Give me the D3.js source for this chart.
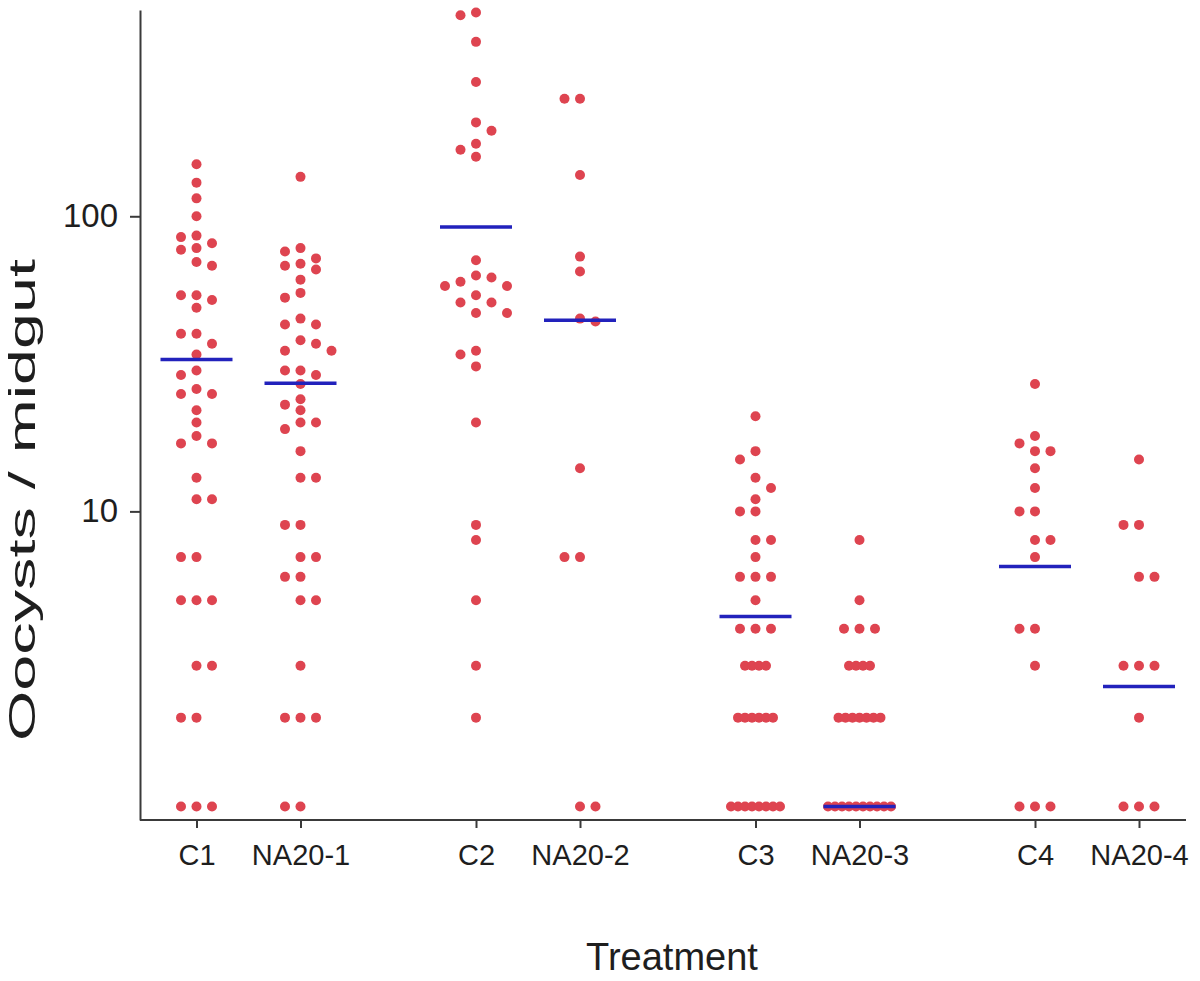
<!DOCTYPE html>
<html>
<head>
<meta charset="utf-8">
<title>Oocysts per midgut</title>
<script src="https://d3js.org/d3.v7.min.js"></script>
<style>
  body { margin: 0; background: #fff; }
  text { font-family: "Liberation Sans", Arial, sans-serif; fill: #1e1e1e; }
</style>
</head>
<body>
<div id="chart"></div>
<script>
// categories, two per infection round
var categories = ["C1", "NA20-1", "C2", "NA20-2", "C3", "NA20-3", "C4", "NA20-4"];
var pairs = ["1", "2", "3", "4"];
var yTicks = [10, 100];

// oocyst counts per midgut
var c1 = [150, 130, 115, 100, 86, 85, 81, 78, 77, 70, 68, 54, 54, 52, 49, 40, 40, 37, 34, 30, 29, 26, 25, 25, 22, 20, 18, 17, 17, 13, 11, 11, 7, 7, 5, 5, 5, 3, 3, 2, 2, 1, 1, 1];
var na1 = [136, 78, 76, 72, 69, 68, 66, 61, 55, 53, 45, 43, 43, 38, 37, 35, 35, 30, 30, 29, 27, 24, 23, 22, 20, 20, 19, 16, 13, 13, 9, 9, 7, 7, 6, 6, 5, 5, 3, 2, 2, 2, 1, 1];
var c2 = [490, 480, 390, 285, 208, 195, 176, 168, 159, 71, 63, 62, 60, 58, 58, 54, 51, 51, 47, 47, 35, 34, 31, 20, 9, 8, 5, 3, 2];
var na2 = [250, 250, 138, 73, 65, 45, 44, 14, 7, 7, 1, 1];
var c3 = [21, 16, 15, 13, 12, 11, 10, 10, 8, 8, 7, 6, 6, 6, 5, 4, 4, 4, 3, 3, 3, 3, 2, 2, 2, 2, 2, 2, 1, 1, 1, 1, 1, 1, 1, 1];
var na3 = [8, 5, 4, 4, 4, 3, 3, 3, 3, 2, 2, 2, 2, 2, 2, 2, 1, 1, 1, 1, 1, 1, 1, 1, 1, 1];
var c4 = [27, 18, 17, 16, 16, 14, 12, 10, 10, 8, 8, 7, 4, 4, 3, 1, 1, 1];
var na4 = [15, 9, 9, 6, 6, 3, 3, 3, 2, 1, 1, 1];
var series = [c1, na1, c2, na2, c3, na3, c4, na4];

// group summary lines
var means = [32.7, 27.2, 92, 44.4, 4.4, 1.0, 6.5, 2.55];

var width = 1200, height = 981;
var svg = d3.select('#chart').append('svg')
  .attr('width', width)
  .attr('height', height);

var pairX = d3.scalePoint().domain(pairs).range([248.5, 1087]);
var inner = d3.scalePoint().domain(["C", "NA20"]).range([-52, 52]);
var x = d3.scaleOrdinal()
  .domain(categories)
  .range(categories.map(function (c) {
    return pairX(c.slice(-1)) + inner(c[0] == "C" ? "C" : "NA20");
  }));

var y = d3.scaleLog().domain([0.9, 500]).range([820, 10]);

// y axis
var yAxis = svg.append('g')
  .attr('transform', 'translate(140,0)')
  .call(d3.axisLeft(y).tickValues(yTicks).tickFormat(d3.format('d'))
    .tickSizeInner(10).tickSizeOuter(0).tickPadding(12));
yAxis.select('.domain').attr('stroke', '#3a3a3a').attr('stroke-width', 2);
yAxis.selectAll('.tick line').attr('stroke', '#3a3a3a').attr('stroke-width', 2);
yAxis.selectAll('.tick text').attr('font-size', 33).attr('fill', '#1e1e1e')
  .attr('font-family', '"Liberation Sans", Arial, sans-serif');

// x axis
var xAxis = svg.append('g')
  .attr('transform', 'translate(0,820)')
  .call(d3.axisBottom(x).tickSizeInner(8).tickSizeOuter(0).tickPadding(16));
xAxis.select('.domain').remove();
xAxis.selectAll('.tick line').attr('stroke', '#3a3a3a').attr('stroke-width', 2);
xAxis.selectAll('.tick text').attr('font-size', 29).attr('fill', '#1e1e1e')
  .attr('font-family', '"Liberation Sans", Arial, sans-serif');
xAxis.append('line')
  .attr('x1', 140).attr('x2', 1186)
  .attr('stroke', '#3a3a3a').attr('stroke-width', 2);

// titles
svg.append('text')
  .attr('x', 672).attr('y', 970)
  .attr('text-anchor', 'middle')
  .attr('font-size', 38)
  .text('Treatment');

svg.append('text')
  .attr('transform', 'translate(35,500) rotate(-90)')
  .attr('text-anchor', 'middle')
  .attr('font-size', 37)
  .attr('textLength', 482)
  .attr('lengthAdjust', 'spacingAndGlyphs')
  .text('Oocysts / midgut');

// simple column scatter: equal or close values are pushed to side slots
function swarm(values) {
  var step = 15.5, gap = 11, squeeze = 7;
  var counts = d3.rollup(values, function (v) { return v.length; }, function (d) { return d; });
  var rowIdx = new Map();
  var placed = [];
  var side = -1;
  values.slice().sort(function (a, b) { return b - a; }).forEach(function (v) {
    var n = counts.get(v);
    var py = y(v);
    if (n > 3) {
      var i = rowIdx.get(v) || 0;
      rowIdx.set(v, i + 1);
      placed.push({ v: v, y: py, dx: (i - (n - 1) / 2) * squeeze });
      return;
    }
    for (var k = 0; k < 12; k++) {
      var slot = k === 0 ? 0 : (k % 2 ? side : -side) * Math.ceil(k / 2);
      var dx = slot * step;
      var clash = placed.some(function (p) {
        return Math.abs(p.dx - dx) < 1 && Math.abs(p.y - py) < gap;
      });
      if (!clash) {
        placed.push({ v: v, y: py, dx: dx });
        if (slot !== 0) side = -side;
        break;
      }
    }
  });
  return placed;
}

categories.forEach(function (cat, i) {
  svg.append('g')
    .selectAll('circle')
    .data(swarm(series[i]))
    .enter().append('circle')
    .attr('cx', function (d) { return x(cat) + d.dx; })
    .attr('cy', function (d) { return d.y; })
    .attr('r', 5)
    .attr('fill', '#de4450');
});

svg.append('g')
  .selectAll('line')
  .data(means)
  .enter().append('line')
  .attr('x1', function (d, i) { return x(categories[i]) - 36; })
  .attr('x2', function (d, i) { return x(categories[i]) + 36; })
  .attr('y1', function (d) { return y(d); })
  .attr('y2', function (d) { return y(d); })
  .attr('stroke', '#2222bc')
  .attr('stroke-width', 3.5);
</script>
</body>
</html>
